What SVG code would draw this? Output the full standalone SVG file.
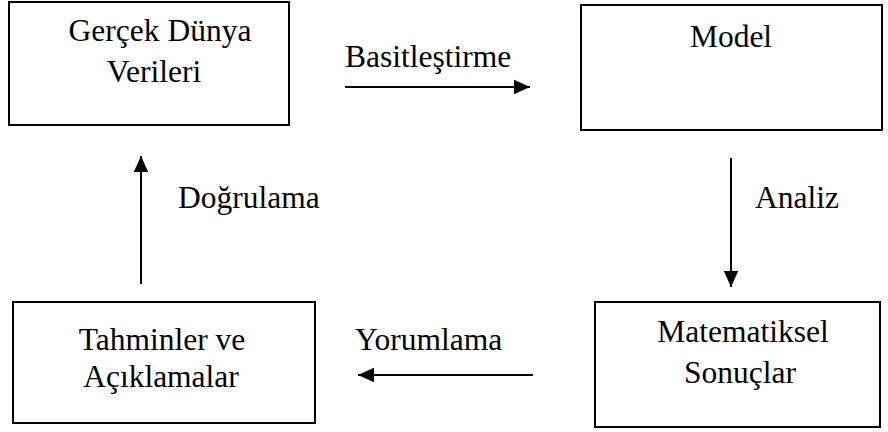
<svg xmlns="http://www.w3.org/2000/svg" width="888" height="432" viewBox="0 0 888 432">
<style>
.box{fill:#fff;stroke:#000;stroke-width:2}
.t{font-family:"Liberation Serif","Times New Roman",serif;font-size:31.5px;fill:#000}
.c{text-anchor:middle}
.ln{stroke:#000;stroke-width:2;fill:none}
</style>
<defs>
<marker id="ah" viewBox="0 0 10 10" refX="10" refY="5" markerWidth="8" markerHeight="8" markerUnits="strokeWidth" orient="auto">
<path d="M0,0.5 L10,5 L0,9.5 Z" fill="#000"/>
</marker>
</defs>
<rect width="888" height="432" fill="#fff"/>
<g id="gercek">
<rect class="box" x="9" y="2" width="280" height="123"/>
<text class="t c" x="160" y="41">Gerçek Dünya</text>
<text class="t c" x="154" y="82">Verileri</text>
</g>
<g id="model">
<rect class="box" x="581" y="5" width="301" height="125"/>
<text class="t c" x="731" y="47">Model</text>
</g>
<g id="tahminler">
<rect class="box" x="13" y="302" width="302" height="121"/>
<text class="t c" x="162" y="350">Tahminler ve</text>
<text class="t c" x="161" y="387">Açıklamalar</text>
</g>
<g id="matematiksel">
<rect class="box" x="595" y="302" width="285" height="125"/>
<text class="t c" x="743" y="342">Matematiksel</text>
<text class="t c" x="740" y="383">Sonuçlar</text>
</g>
<g id="connectors">
<line class="ln" x1="345" y1="87" x2="530" y2="87" marker-end="url(#ah)"/>
<text class="t" x="345" y="67">Basitleştirme</text>
<line class="ln" x1="731" y1="158" x2="731" y2="287" marker-end="url(#ah)"/>
<text class="t" x="755" y="208">Analiz</text>
<line class="ln" x1="533" y1="375" x2="358" y2="375" marker-end="url(#ah)"/>
<text class="t" x="355" y="350">Yorumlama</text>
<line class="ln" x1="141" y1="284" x2="141" y2="156" marker-end="url(#ah)"/>
<text class="t" x="178" y="208">Doğrulama</text>
</g>
</svg>
